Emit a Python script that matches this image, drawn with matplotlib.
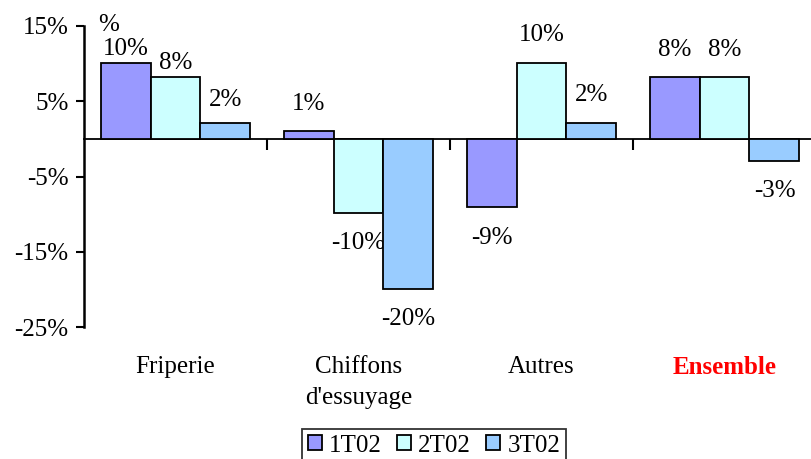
import matplotlib
matplotlib.use("Agg")
from matplotlib import pyplot as plt
import numpy as np

# data
categories = ["Friperie", "Chiffons\nd'essuyage", "Autres", "Ensemble"]
series = ["1T02", "2T02", "3T02"]
v_1t02 = [10.1, 1.0, -9.1, 8.2]
v_2t02 = [8.2, -9.8, 10.1, 8.2]
v_3t02 = [2.1, -19.9, 2.1, -2.9]
yticks = [15, 5, -5, -15, -25]

colors = ["#9999FF", "#CCFFFF", "#99CCFF"]

plt.rcParams['font.family'] = ['Liberation Serif', 'DejaVu Serif']
plt.rcParams['font.size'] = 18

fig = plt.figure(figsize=(8.11, 4.59), dpi=100)
ax = fig.add_axes([84/811, 1-327/459, 732/811, 301/459])

x = np.arange(len(categories))
w = 0.273
vals = [v_1t02, v_2t02, v_3t02]
for k, (name, v) in enumerate(zip(series, vals)):
    pos = x + (k-1)*w
    ax.bar(pos, v, w, color=colors[k], edgecolor='black', linewidth=1.3,
           label=name, zorder=3)
    for i, (p, val) in enumerate(zip(pos, v)):
        txt = "%d%%" % round(val)
        # Friperie labels sit closer to the bars in the original
        gap = 2 if (i == 0 and k < 2) else 9 if i == 0 else 12
        if val >= 0:
            ax.annotate(txt, (p, val), xytext=(0, gap), textcoords='offset points',
                        ha='center', va='bottom')
        else:
            ax.annotate(txt, (p, val), xytext=(0, -gap - 2), textcoords='offset points',
                        ha='center', va='top')

ax.set_xlim(-0.5, 3.5)
ax.set_ylim(-25, 15)
ax.set_yticks(yticks)
ax.set_yticklabels(["%d%%" % t for t in yticks])
ax.tick_params(axis='y', direction='out', length=6, width=1.5, pad=5)

ax.spines['top'].set_visible(False)
ax.spines['right'].set_visible(False)
ax.spines['left'].set_linewidth(1.8)
ax.spines['bottom'].set_position(('data', 0))
ax.spines['bottom'].set_linewidth(1.3)
ax.set_xticks([0.5, 1.5, 2.5])
ax.set_xticklabels([])
ax.tick_params(axis='x', direction='out', length=8, width=1.5)

trans = ax.get_xaxis_transform()
for i, c in enumerate(categories):
    if c == "Ensemble":
        ax.text(i, -0.095, c, transform=trans, ha='center', va='top',
                color='red', fontweight='bold')
    else:
        ax.text(i, -0.095, c, transform=trans, ha='center', va='top',
                linespacing=1.55)

ax.text(98/811, 1-25/459, "%", transform=fig.transFigure, ha='left', va='center')

leg = fig.legend(loc='upper center', bbox_to_anchor=(434/811, 1-416/459), ncol=3,
                 frameon=True, fancybox=False, shadow=False, handlelength=0.55,
                 handleheight=0.55, handletextpad=0.3, columnspacing=0.6,
                 borderpad=0.25, fontsize=18)
leg.get_frame().set_edgecolor('black')
leg.get_frame().set_linewidth(1.3)

fig.savefig("out.png", dpi=100)
